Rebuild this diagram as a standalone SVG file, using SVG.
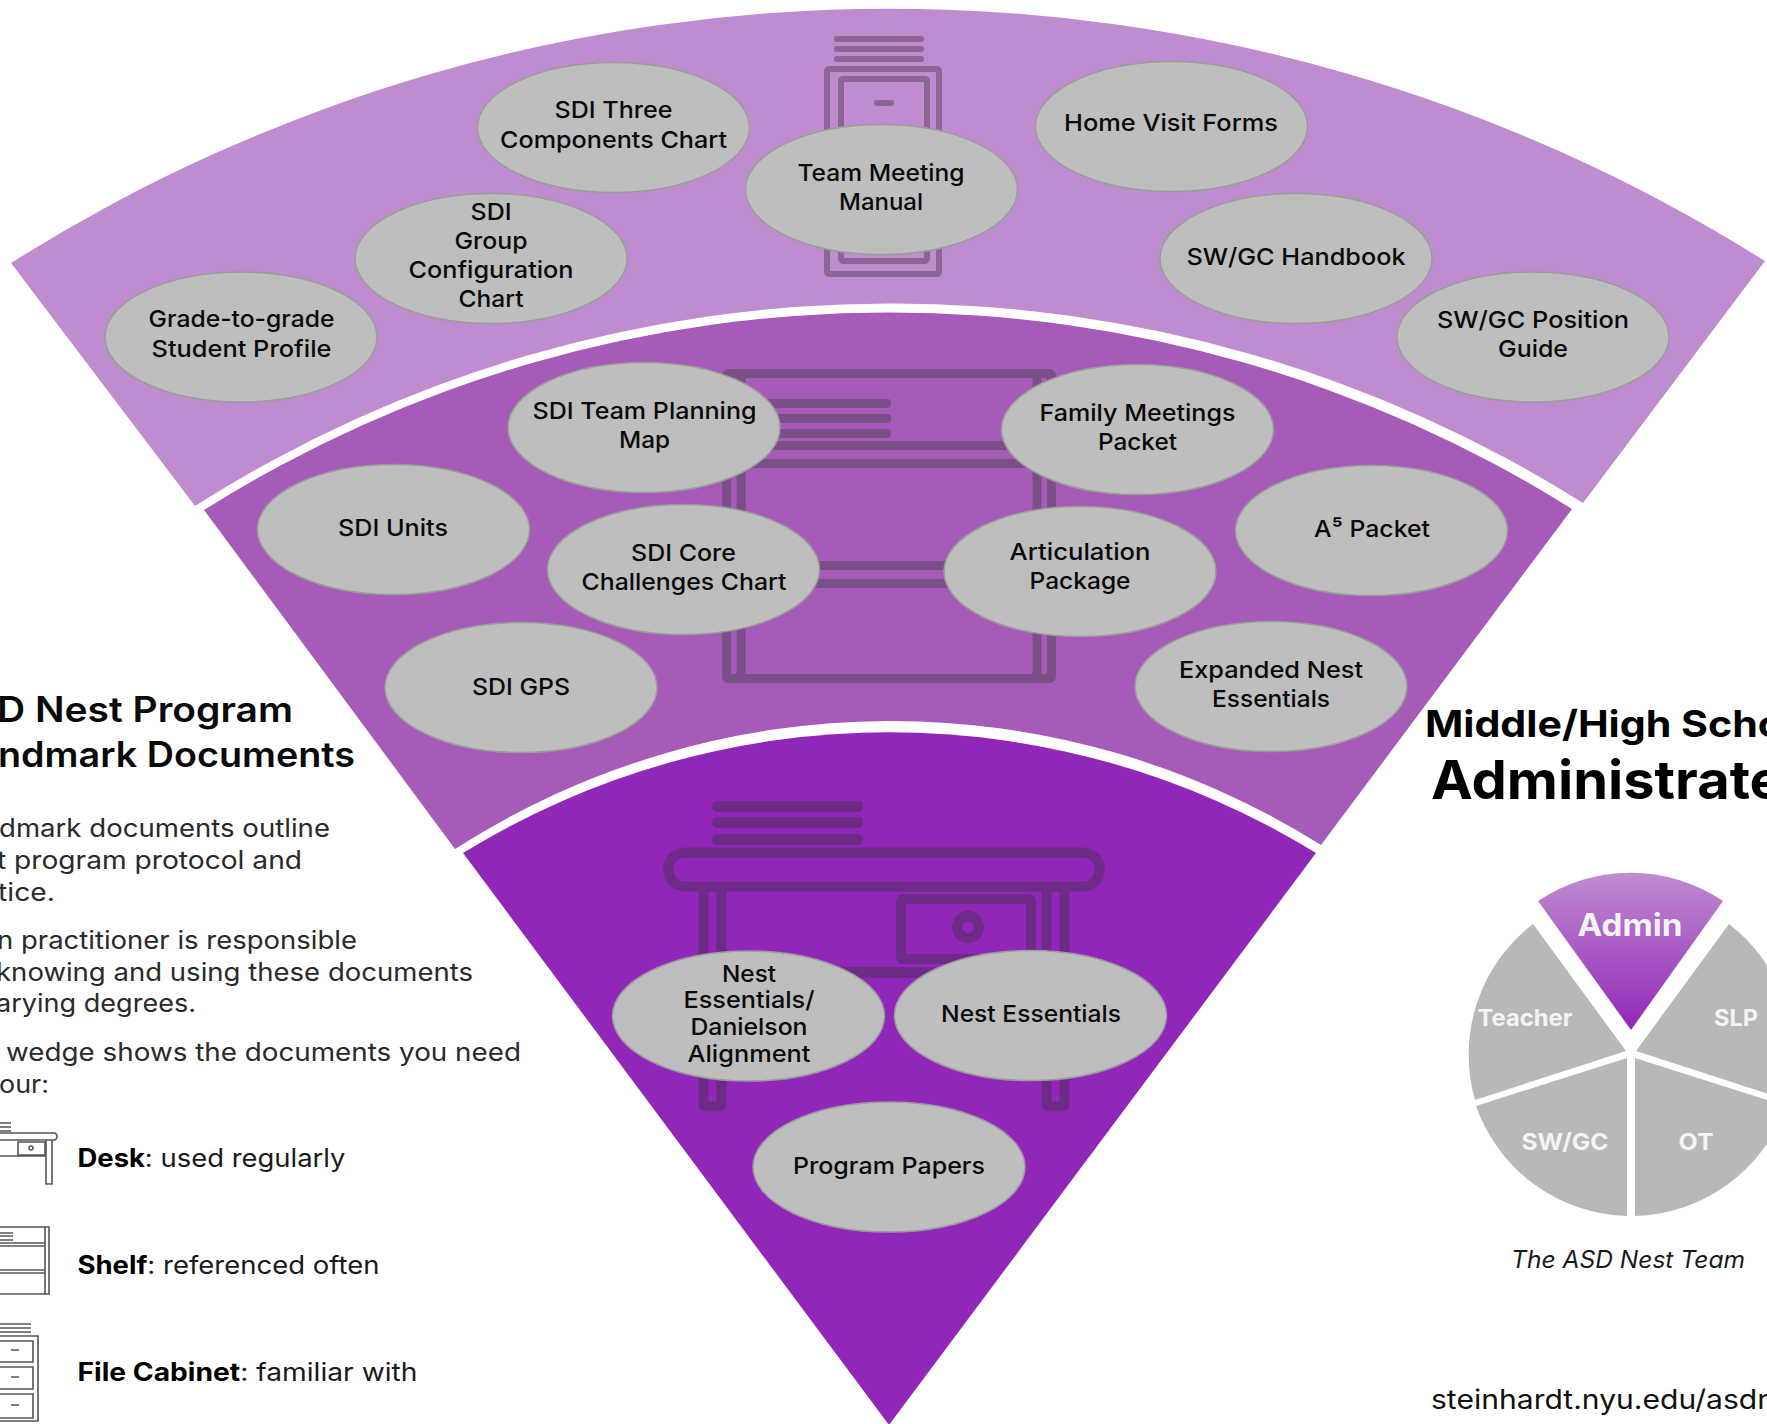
<svg xmlns="http://www.w3.org/2000/svg" width="1767" height="1424" viewBox="0 0 1767 1424">
<style>
text{font-family:"Inter","Open Sans","Liberation Sans",sans-serif}
.n{fill:#bebebe;stroke:#9c9c9c;stroke-width:1.5}
.l{font-size:23.5px;font-weight:500;fill:#0a0a0a;text-anchor:middle}
.h{font-size:35px;font-weight:600;fill:#0a0a0a}
.b{font-size:25px;font-weight:400;fill:#2a2a2a}
.k{font-size:25px;font-weight:400;fill:#1a1a1a}
.k tspan{font-weight:700;fill:#000}
.p{font-weight:700;fill:#f4f4f4;text-anchor:middle;font-size:23px}
.g{fill:#b8b8b8}
.c1{fill:none;stroke:#8b6596;stroke-width:6;stroke-linejoin:round}
.c1f{fill:#8b6596}
.c2{fill:none;stroke:#7a4f88;stroke-width:9;stroke-linejoin:round}
.c2f{fill:#7a4f88}
.c3{fill:none;stroke:#6d2a87;stroke-width:10;stroke-linejoin:round}
.c3f{fill:#6d2a87}
.i{fill:none;stroke:#555;stroke-width:1.6}
</style>
<defs>
<linearGradient id="adm" x1="0" y1="0" x2="0" y2="1"><stop offset="0" stop-color="#bf8cd0"/><stop offset="1" stop-color="#9127b8"/></linearGradient>
</defs>
<rect width="1767" height="1424" fill="#fff"/>
<g id="wedges">
<path d="M11 263A1645 1645 0 0 1 1765 261L1583 503A1298 1298 0 0 0 195 506Z" fill="#bf8cd0"/>
<path d="M204 510A1286 1286 0 0 1 1572 509L1321 845A807 807 0 0 0 455 849Z" fill="#a55bb7"/>
<path d="M463 853A814 814 0 0 1 1316 853L889 1425Z" fill="#9127b8"/>
</g>
<g id="icon-file-cabinet">
<rect class="c1f" x="834" y="36" width="90" height="6" rx="3"/><rect class="c1f" x="834" y="46" width="90" height="6" rx="3"/><rect class="c1f" x="834" y="56" width="90" height="6" rx="3"/>
<rect class="c1" x="827" y="69" width="112" height="205" rx="2"/>
<rect class="c1" x="841" y="79" width="86" height="182" rx="2"/>
<rect class="c1f" x="874" y="100" width="20" height="6" rx="3"/>
</g>
<g id="icon-shelf">
<rect class="c2" x="726.500" y="373.500" width="325" height="305" rx="2"/>
<path class="c2" d="M741 373V679M1037 373V679M727 445.500H1051M727 463.500H1051M727 565.500H1051M727 583.500H1051"/>
<rect class="c2f" x="760" y="399" width="131" height="9" rx="4"/><rect class="c2f" x="760" y="414" width="131" height="9" rx="4"/><rect class="c2f" x="760" y="429" width="131" height="9" rx="4"/>
</g>
<g id="icon-desk">
<rect class="c3f" x="712" y="801" width="151" height="11" rx="5"/><rect class="c3f" x="712" y="817" width="151" height="11" rx="5"/><rect class="c3f" x="712" y="834" width="151" height="11" rx="5"/>
<rect class="c3" x="668" y="852.500" width="432" height="34" rx="17"/>
<rect class="c3" x="703.500" y="887" width="18" height="219.500" rx="2"/>
<rect class="c3" x="1046.500" y="887" width="18" height="219.500" rx="2"/>
<rect class="c3" x="901" y="899" width="130" height="60" rx="2"/>
<circle class="c3" cx="968" cy="927" r="11"/>
<rect class="c3f" x="726" y="967" width="316" height="11"/>
</g>
<g id="node-sdi-three"><ellipse class="n" cx="613.500" cy="127.500" rx="136" ry="65"/><text class="l" x="613.500" y="118" textLength="118" lengthAdjust="spacingAndGlyphs">SDI Three</text><text class="l" x="613.500" y="147.500" textLength="227" lengthAdjust="spacingAndGlyphs">Components Chart</text></g>
<g id="node-team-meeting"><ellipse class="n" cx="881.500" cy="189.500" rx="136" ry="65"/><text class="l" x="881" y="180.500" textLength="167" lengthAdjust="spacingAndGlyphs">Team Meeting</text><text class="l" x="881" y="209.500" textLength="84" lengthAdjust="spacingAndGlyphs">Manual</text></g>
<g id="node-home-visit"><ellipse class="n" cx="1171.500" cy="126.500" rx="136" ry="65"/><text class="l" x="1171" y="131" textLength="214" lengthAdjust="spacingAndGlyphs">Home Visit Forms</text></g>
<g id="node-sdi-group"><ellipse class="n" cx="491" cy="258.500" rx="136" ry="65"/><text class="l" x="491" y="219.500" textLength="41" lengthAdjust="spacingAndGlyphs">SDI</text><text class="l" x="491" y="249" textLength="73" lengthAdjust="spacingAndGlyphs">Group</text><text class="l" x="491" y="278" textLength="165" lengthAdjust="spacingAndGlyphs">Configuration</text><text class="l" x="491" y="307" textLength="65" lengthAdjust="spacingAndGlyphs">Chart</text></g>
<g id="node-handbook"><ellipse class="n" cx="1296" cy="258.500" rx="136" ry="65"/><text class="l" x="1296" y="265" textLength="219" lengthAdjust="spacingAndGlyphs">SW/GC Handbook</text></g>
<g id="node-grade"><ellipse class="n" cx="241" cy="337" rx="136" ry="65"/><text class="l" x="241.500" y="327" textLength="186" lengthAdjust="spacingAndGlyphs">Grade-to-grade</text><text class="l" x="241.500" y="357" textLength="180" lengthAdjust="spacingAndGlyphs">Student Profile</text></g>
<g id="node-position"><ellipse class="n" cx="1533" cy="337" rx="136" ry="65"/><text class="l" x="1533" y="328" textLength="192" lengthAdjust="spacingAndGlyphs">SW/GC Position</text><text class="l" x="1533" y="357" textLength="70" lengthAdjust="spacingAndGlyphs">Guide</text></g>
<g id="node-team-planning"><ellipse class="n" cx="644" cy="427.500" rx="136" ry="65"/><text class="l" x="644.500" y="418.500" textLength="224" lengthAdjust="spacingAndGlyphs">SDI Team Planning</text><text class="l" x="644.500" y="448" textLength="51" lengthAdjust="spacingAndGlyphs">Map</text></g>
<g id="node-family"><ellipse class="n" cx="1137.500" cy="429.500" rx="136" ry="65"/><text class="l" x="1137.500" y="420.500" textLength="196" lengthAdjust="spacingAndGlyphs">Family Meetings</text><text class="l" x="1137.500" y="450" textLength="79" lengthAdjust="spacingAndGlyphs">Packet</text></g>
<g id="node-units"><ellipse class="n" cx="393.500" cy="529.500" rx="136" ry="65"/><text class="l" x="393" y="536" textLength="110" lengthAdjust="spacingAndGlyphs">SDI Units</text></g>
<g id="node-a5"><ellipse class="n" cx="1371.500" cy="530.500" rx="136" ry="65"/><text class="l" x="1372" y="537" textLength="116" lengthAdjust="spacingAndGlyphs">A⁵ Packet</text></g>
<g id="node-core"><ellipse class="n" cx="683.500" cy="569.500" rx="136" ry="65"/><text class="l" x="683.500" y="561" textLength="105" lengthAdjust="spacingAndGlyphs">SDI Core</text><text class="l" x="684" y="590" textLength="205" lengthAdjust="spacingAndGlyphs">Challenges Chart</text></g>
<g id="node-articulation"><ellipse class="n" cx="1080" cy="571.500" rx="136" ry="65"/><text class="l" x="1080" y="559.500" textLength="141" lengthAdjust="spacingAndGlyphs">Articulation</text><text class="l" x="1080" y="589" textLength="101" lengthAdjust="spacingAndGlyphs">Package</text></g>
<g id="node-gps"><ellipse class="n" cx="521" cy="687.500" rx="136" ry="65"/><text class="l" x="521" y="695" textLength="98" lengthAdjust="spacingAndGlyphs">SDI GPS</text></g>
<g id="node-expanded"><ellipse class="n" cx="1271" cy="686.500" rx="136" ry="65"/><text class="l" x="1271" y="678" textLength="184" lengthAdjust="spacingAndGlyphs">Expanded Nest</text><text class="l" x="1271" y="707" textLength="118" lengthAdjust="spacingAndGlyphs">Essentials</text></g>
<g id="node-danielson"><ellipse class="n" cx="748.500" cy="1016" rx="136" ry="65"/><text class="l" x="749" y="981.500" textLength="54" lengthAdjust="spacingAndGlyphs">Nest</text><text class="l" x="749" y="1008" textLength="131" lengthAdjust="spacingAndGlyphs">Essentials/</text><text class="l" x="749" y="1035" textLength="117" lengthAdjust="spacingAndGlyphs">Danielson</text><text class="l" x="749" y="1061.500" textLength="123" lengthAdjust="spacingAndGlyphs">Alignment</text></g>
<g id="node-essentials"><ellipse class="n" cx="1030.500" cy="1015.500" rx="136" ry="65"/><text class="l" x="1031" y="1022" textLength="180" lengthAdjust="spacingAndGlyphs">Nest Essentials</text></g>
<g id="node-papers"><ellipse class="n" cx="889" cy="1167" rx="136" ry="65"/><text class="l" x="889" y="1174" textLength="192" lengthAdjust="spacingAndGlyphs">Program Papers</text></g>
<g id="left-panel">
<text class="h" x="-3" y="721.500" textLength="296" lengthAdjust="spacingAndGlyphs">D Nest Program</text>
<text class="h" x="-2" y="766.500" textLength="357" lengthAdjust="spacingAndGlyphs">ndmark Documents</text>
<text class="b" x="-1" y="836.500" textLength="331" lengthAdjust="spacingAndGlyphs">dmark documents outline</text>
<text class="b" x="-3" y="869" textLength="305" lengthAdjust="spacingAndGlyphs">t program protocol and</text>
<text class="b" x="-2" y="901" textLength="57" lengthAdjust="spacingAndGlyphs">tice.</text>
<text class="b" x="-3" y="949" textLength="360" lengthAdjust="spacingAndGlyphs">n practitioner is responsible</text>
<text class="b" x="-4" y="981" textLength="477" lengthAdjust="spacingAndGlyphs">knowing and using these documents</text>
<text class="b" x="-4" y="1012" textLength="200" lengthAdjust="spacingAndGlyphs">arying degrees.</text>
<text class="b" x="6" y="1061" textLength="515" lengthAdjust="spacingAndGlyphs">wedge shows the documents you need</text>
<text class="b" x="-1" y="1092.500" textLength="50" lengthAdjust="spacingAndGlyphs">our:</text>
</g>
<g id="legend-desk">
<path class="i" d="M0 1123H11M0 1127H11M0 1131H11"/>
<path class="i" d="M-5 1133H55A4 4 0 0 1 55 1140H-5M46 1140V1184H52V1140M18 1142H45V1155H18ZM0 1156H46"/>
<circle class="i" cx="31" cy="1148" r="2"/>
<text class="k" x="77.500" y="1167" textLength="268" lengthAdjust="spacingAndGlyphs"><tspan>Desk</tspan>: used regularly</text>
</g>
<g id="legend-shelf">
<path class="i" d="M0 1233H13M0 1236H13M0 1240H13M-5 1227H49V1294H-5M45 1227V1294M0 1243H45M0 1246H45M0 1270H45M0 1273H45"/>
<text class="k" x="77.500" y="1274" textLength="302" lengthAdjust="spacingAndGlyphs"><tspan>Shelf</tspan>: referenced often</text>
</g>
<g id="legend-cabinet">
<path class="i" d="M0 1324H31M0 1328H31M0 1332H31M-5 1336H38V1421H-5M-5 1341H33V1362H-5M-5 1367H33V1389H-5M-5 1394H33V1418H-5M11 1350H19M11 1377H19M11 1405H19"/>
<text class="k" x="77.500" y="1381" textLength="340" lengthAdjust="spacingAndGlyphs"><tspan>File Cabinet</tspan>: familiar with</text>
</g>
<g id="right-panel">
<text x="1425" y="737" font-size="37" font-weight="700" fill="#000" textLength="358" lengthAdjust="spacingAndGlyphs">Middle/High Scho</text>
<text x="1431" y="799" font-size="54" font-weight="700" fill="#000" textLength="352" lengthAdjust="spacingAndGlyphs">Administrate</text>
</g>
<g id="pie-admin"><path d="M1538 901A165 165 0 0 1 1723 901L1631 1030Z" fill="url(#adm)"/><text class="p" x="1630" y="935.500" style="font-size:31px" textLength="105" lengthAdjust="spacingAndGlyphs">Admin</text></g>
<g id="pie-teacher"><path class="g" d="M1533 924L1626 1051L1475 1100A165 165 0 0 1 1533 924Z"/><text class="p" x="1525" y="1026" textLength="95" lengthAdjust="spacingAndGlyphs">Teacher</text></g>
<g id="pie-slp"><path class="g" d="M1729 924L1636 1051L1787 1100A165 165 0 0 0 1729 924Z"/><text class="p" x="1736" y="1026" textLength="44" lengthAdjust="spacingAndGlyphs">SLP</text></g>
<g id="pie-swgc"><path class="g" d="M1476 1106L1627 1058V1216A165 165 0 0 1 1476 1106Z"/><text class="p" x="1565" y="1150" textLength="87" lengthAdjust="spacingAndGlyphs">SW/GC</text></g>
<g id="pie-ot"><path class="g" d="M1786 1106L1635 1058V1216A165 165 0 0 0 1786 1106Z"/><text class="p" x="1696" y="1150" textLength="35" lengthAdjust="spacingAndGlyphs">OT</text></g>
<text x="1511" y="1267.500" font-size="24" font-style="italic" fill="#1a1a1a" textLength="234" lengthAdjust="spacingAndGlyphs">The ASD Nest Team</text>
<text x="1431" y="1409" font-size="27" fill="#111" textLength="344" lengthAdjust="spacingAndGlyphs">steinhardt.nyu.edu/asdn</text>
</svg>
